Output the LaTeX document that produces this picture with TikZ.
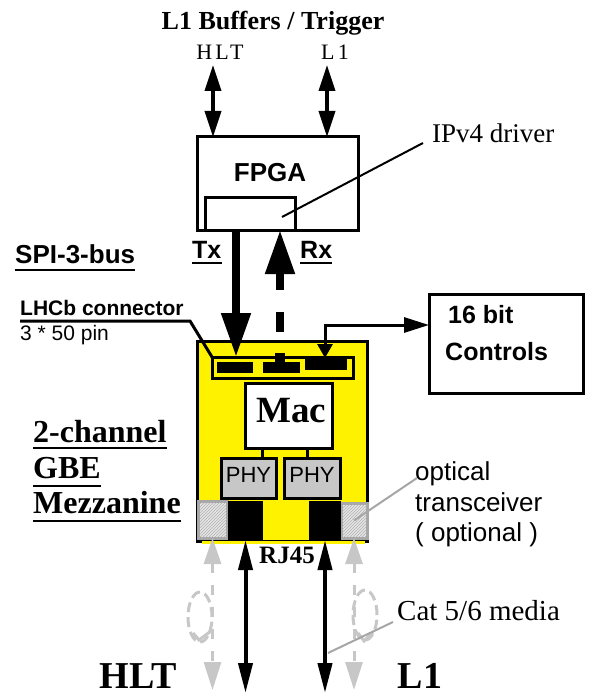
\documentclass[tikz,border=0pt]{standalone}
\usepackage{fontspec}
\setmainfont{Liberation Serif}
\setsansfont{Liberation Sans}
\usetikzlibrary{arrows.meta,patterns}
\newcommand{\gbeFs}[1]{\fontsize{#1pt}{#1pt}\selectfont}

\begin{document}
\begin{tikzpicture}[x=1pt,y=-1pt,
  blk/.style={draw, line width=3pt, inner sep=0pt, outer sep=0pt},
  pin/.style={fill=black, inner sep=0pt, outer sep=0pt},
  opt/.style={draw=black!35, line width=3pt, fill=black!10, inner sep=0pt, outer sep=0pt, postaction={pattern=north east lines, pattern color=black!30}},
  lbl/.style={anchor=base, inner sep=0pt},
  lblw/.style={anchor=base west, inner sep=0pt},
  uline/.style={line width=2.5pt},
  topio/.style={line width=3.5pt, arrows={Triangle[width=16pt,length=26pt]-Triangle[width=16pt,length=26pt]}},
  busarr/.style={line width=8pt, arrows={-Triangle[width=28pt,length=44pt]}},
  ctlarr/.style={line width=3pt, arrows={Triangle[width=15pt,length=14pt]-Triangle[width=15pt,length=25pt]}},
  rjio/.style={line width=4pt, arrows={Triangle[width=14pt,length=30pt]-Triangle[width=14pt,length=30pt]}},
  optio/.style={line width=3pt, black!22, dash pattern=on 10pt off 12pt, arrows={Triangle[width=17pt,length=26pt]-Triangle[width=17pt,length=28pt]}},
  loopln/.style={line width=3pt, black!22, dash pattern=on 10pt off 5pt},
  grayln/.style={line width=2pt, black!35}]
\useasboundingbox (0,0) rectangle (589,695);
\node[lbl] (bufTitle) at (273,30) {\gbeFs{26}\bfseries L1 Buffers / Trigger};
\node[lbl] (hltTop) at (220,60) {\gbeFs{22}\addfontfeature{LetterSpace=15}HLT};
\node[lbl] (l1Top) at (335,60) {\gbeFs{22}\addfontfeature{LetterSpace=15}L1};
\node[blk, minimum width=161, minimum height=93] (fpga) at (277.5,183.5) {};
\node[lbl] (fpgaTxt) at (270,182) {\gbeFs{26}\sffamily\bfseries FPGA};
\node[blk, minimum width=90, minimum height=33] (ipv) at (250,213.5) {};
\node[lblw] (ipvTxt) at (432,143) {\gbeFs{27}IPv4 driver};
\coordinate (ipvTip) at (282,217);
\draw[line width=2pt] (ipvTip) -- ([xshift=-9pt]ipvTxt.base west);
\coordinate (hltEnd) at (213,65);
\coordinate (l1End) at (327,65);
\draw[topio] (hltEnd) -- (hltEnd |- fpga.north);
\draw[topio] (l1End) -- (l1End |- fpga.north);
\node[lblw] (spiTxt) at (15,263) {\gbeFs{26}\sffamily\bfseries SPI-3-bus};
\draw[uline] ([yshift=-7pt]spiTxt.base west) -- ([yshift=-7pt]spiTxt.base east);
\node[lblw] (txTxt) at (192,258) {\gbeFs{25}\sffamily\bfseries Tx};
\draw[uline] ([yshift=-5pt]txTxt.base west) -- ([yshift=-5pt]txTxt.base east);
\node[lblw] (rxTxt) at (300,258) {\gbeFs{25}\sffamily\bfseries Rx};
\draw[uline] ([yshift=-5pt]rxTxt.base west) -- ([yshift=-5pt]rxTxt.base east);
\node[blk, fill=yellow, minimum width=170, minimum height=200] (mezz) at (282,441) {};
\fill[yellow] (202,541) rectangle (365,544);
\node[blk, minimum width=141, minimum height=21] (conn) at (282.5,367.5) {};
\node[pin, minimum width=36, minimum height=11] (pinA) at (235,367.5) {};
\node[pin, minimum width=37, minimum height=11] (pinB) at (281.5,367.5) {};
\node[pin, minimum width=42, minimum height=12] (pinC) at (326,364) {};
\node[pin, minimum width=10, minimum height=9] (pinTab) at (280,357.5) {};
\coordinate (txTop) at (236,230);
\draw[busarr] (txTop) -- (txTop |- conn.north);
\coordinate (rxBot) at (280,332);
\draw[busarr, dash pattern=on 20pt off 22pt] (rxBot) -- (rxBot |- fpga.south);
\node[lblw] (lhcbTxt) at (20,315) {\gbeFs{21}\sffamily\bfseries LHCb connector};
\node[lblw] (pinTxt) at (20,340) {\gbeFs{21}\sffamily 3 * 50 pin};
\coordinate (lhcbBend) at (190,321);
\draw[line width=3pt] ([yshift=-6pt]lhcbTxt.base west) -- (lhcbBend) -- (conn.north west);
\node[blk, minimum width=154, minimum height=99] (ctrl) at (506,343.5) {};
\node[lblw] (ctrlTxtA) at (448,323) {\gbeFs{25}\sffamily\bfseries 16 bit};
\node[lblw] (ctrlTxtB) at (445,360) {\gbeFs{25}\sffamily\bfseries Controls};
\coordinate (ctlBend) at (325,325);
\draw[ctlarr] (ctlBend |- pinC.north) -- (ctlBend) -- (ctlBend -| ctrl.west);
\node[blk, fill=white, minimum width=87, minimum height=65] (mac) at (288.5,415.5) {};
\node[lbl] (macTxt) at (291,422) {\gbeFs{37}\bfseries Mac};
\node[blk, fill=black!22, minimum width=55, minimum height=40] (phyA) at (248.5,478) {};
\node[blk, fill=black!22, minimum width=56, minimum height=40] (phyB) at (312,478) {};
\node[lbl] (phyTxtA) at (248.5,482) {\gbeFs{22}\sffamily PHY};
\node[lbl] (phyTxtB) at (312,482) {\gbeFs{22}\sffamily PHY};
\draw[line width=3pt] ([xshift=13.5pt]phyA.north) -- ([xshift=13.5pt]phyA.north |- mac.south);
\draw[line width=3pt] ([xshift=-5pt]phyB.north) -- ([xshift=-5pt]phyB.north |- mac.south);
\node[opt, minimum width=29, minimum height=37] (optA) at (212.5,519.5) {};
\node[opt, minimum width=26, minimum height=35] (optB) at (354,520.5) {};
\node[pin, minimum width=35, minimum height=39] (rjA) at (245.5,520.5) {};
\node[pin, minimum width=32, minimum height=39] (rjB) at (325,520.5) {};
\node[lbl] (rjTxt) at (287,563) {\gbeFs{25}\bfseries RJ45};
\node[lbl] (chTxtA) at (33,442) [anchor=base west] {\gbeFs{32}\bfseries 2-channel};
\node[lbl] (chTxtB) at (33,478) [anchor=base west] {\gbeFs{32}\bfseries GBE};
\node[lbl] (chTxtC) at (33,513) [anchor=base west] {\gbeFs{32}\bfseries Mezzanine};
\draw[uline] ([yshift=-6pt]chTxtA.base west) -- ([yshift=-6pt]chTxtA.base east);
\draw[uline] ([yshift=-8pt]chTxtB.base west) -- ([yshift=-8pt]chTxtB.base east);
\draw[uline] ([yshift=-8pt]chTxtC.base west) -- ([yshift=-8pt]chTxtC.base east);
\node[lblw] (optTxtA) at (415,480) {\gbeFs{26}\sffamily optical};
\node[lblw] (optTxtB) at (415,511) {\gbeFs{26}\sffamily transceiver};
\node[lblw] (optTxtC) at (415,541) {\gbeFs{26}\sffamily ( optional )};
\draw[grayln] (optB.center) -- ([xshift=2pt,yshift=2pt]optTxtA.base west);
\coordinate (botEnd) at (0,693);
\draw[rjio] (rjA.south) -- (rjA.south |- botEnd);
\draw[rjio] (rjB.south) -- (rjB.south |- botEnd);
\coordinate (optEnd) at (0,690);
\draw[optio] (optA.south) -- (optA.south |- optEnd);
\draw[optio] (optB.south) -- (optB.south |- optEnd);
\draw[loopln] (200,617) ellipse [x radius=12pt, y radius=25pt];
\draw[loopln, solid] (193,633) -- (199,640) -- (211,631);
\draw[loopln] (365,615) ellipse [x radius=12pt, y radius=25pt];
\draw[loopln, solid] (358,633) -- (364,641) -- (373,632);
\node[lblw] (catTxt) at (397,620) {\gbeFs{29}Cat 5/6 media};
\coordinate (catTip) at (328,653);
\draw[grayln] (catTip) -- ([xshift=-4pt,yshift=-2pt]catTxt.base west);
\node[lbl] (hltBot) at (138,688) {\gbeFs{38}\bfseries HLT};
\node[lbl] (l1Bot) at (420,688) {\gbeFs{38}\bfseries L1};
\end{tikzpicture}
\end{document}
